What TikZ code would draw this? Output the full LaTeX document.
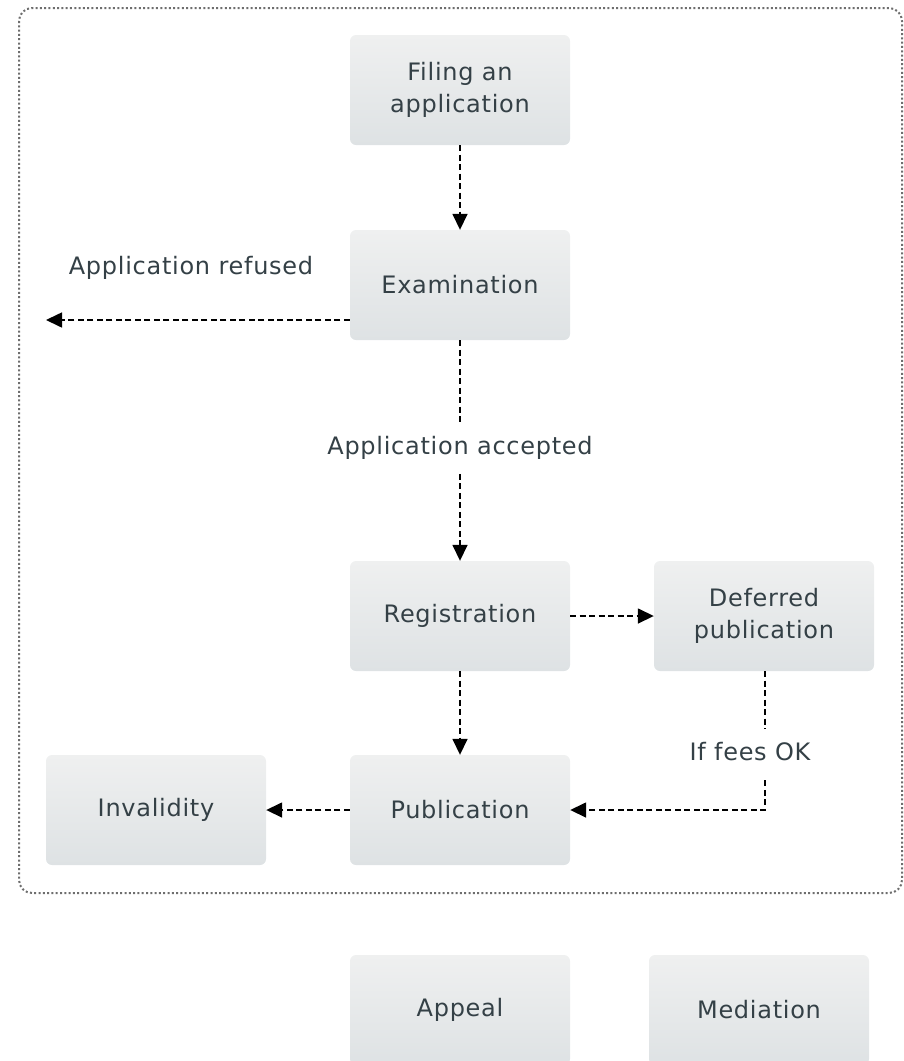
\documentclass[tikz,border=0pt]{standalone}
\usepackage{fontspec}
\setmainfont{DejaVu Sans}[LetterSpace=3]
\usetikzlibrary{arrows.meta,shadings}
\definecolor{boxtop}{RGB}{239,240,240}
\definecolor{boxbot}{RGB}{222,226,228}
\definecolor{txt}{RGB}{52,64,70}
\definecolor{frame}{RGB}{110,110,110}
\begin{document}
\begin{tikzpicture}[x=1pt,y=-1pt,
  stepbox/.style={rectangle, rounded corners=6pt, minimum width=220pt, minimum height=110pt,
    top color=boxtop, bottom color=boxbot, draw=none, text=txt, align=center,
    font=\fontsize{24}{32}\selectfont, inner sep=0pt},
  lbl/.style={text=txt, font=\fontsize{24}{32}\selectfont, inner sep=0pt},
  conn/.style={draw=black, line width=1.6pt, dash pattern=on 6pt off 3.5pt},
  arr/.style={conn, -{Triangle[length=16pt,width=15pt]}}
]
\useasboundingbox (0,0) rectangle (903,1061);
\draw[frame, line width=2pt, dash pattern=on 2pt off 2.3pt, rounded corners=13pt] (19,8) rectangle (902,893);

\node[stepbox] (file) at (460,90) {Filing an\\application};
\node[stepbox] (exam) at (460,285) {Examination};
\node[stepbox] (reg) at (460,616) {Registration};
\node[stepbox] (def) at (764,616) {Deferred\\publication};
\node[stepbox] (pub) at (460,810) {Publication};
\node[stepbox] (inv) at (156,810) {Invalidity};
\node[stepbox] (app) at (460,1010) {Appeal};
\node[stepbox] (med) at (759,1010) {Mediation};

\node[lbl] (refused) at (191,268) {Application refused};
\node[lbl] (accepted) at (460,448) {Application accepted};
\node[lbl] (fees) at (750,752) {If fees OK};

\coordinate (refend) at (46,320);
\coordinate (corner) at (765,810);

\draw[arr] (file.south) -- (exam.north);
\draw[arr] (exam.west |- refend) -- (refend);
\draw[conn] (exam.south) -- ([yshift=12pt]accepted.north);
\draw[arr] ([yshift=-14pt]accepted.south) -- (reg.north);
\draw[arr] (reg.east) -- (def.west);
\draw[arr] (reg.south) -- (pub.north);
\draw[conn] (def.south -| corner) -- ([yshift=14pt]fees.north -| corner);
\draw[arr] ([yshift=-19pt]fees.south -| corner) -- (corner) -- (pub.east);
\draw[arr] (pub.west) -- (inv.east);
\end{tikzpicture}
\end{document}
